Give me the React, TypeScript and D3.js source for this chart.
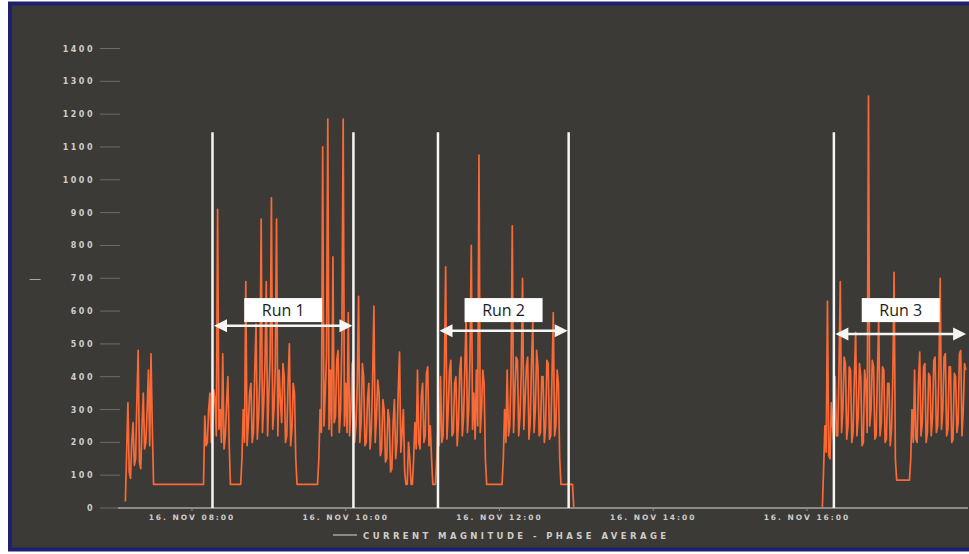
import React from "react";
import * as d3 from "d3";

const Y_TICKS = [0, 100, 200, 300, 400, 500, 600, 700, 800, 900, 1000, 1100, 1200, 1300, 1400];
const X_TICK_TIMES = ["08:00", "10:00", "12:00", "14:00", "16:00"];
const X_TICK_LABELS = ["16. NOV 08:00", "16. NOV 10:00", "16. NOV 12:00", "16. NOV 14:00", "16. NOV 16:00"];
const LEGEND_LABEL = "CURRENT MAGNITUDE - PHASE AVERAGE";
const AXIS_TITLE = "—";
const DOMAIN_TIMES = ["07:06", "18:06"];

const SAMPLE_STEP_MIN = 1;
const SEG1_START = "07:08";
const SEG1_VALUES = [
  20, 170, 320, 110, 90, 200, 260, 130, 150, 330, 480, 140, 120, 250, 350, 180, 200, 300, 420, 190, 470, 250,
  72, 72, 72, 72, 72, 72, 72, 72, 72, 72, 72, 72, 72, 72, 72, 72, 72, 72, 72, 72,
  72, 72, 72, 72, 72, 72, 72, 72, 72, 72, 72, 72, 72, 72, 72, 72, 72, 72, 72, 72,
  280, 190, 200, 300, 350, 200, 250, 360, 330, 220, 910, 240, 300, 200, 470, 180, 220, 320, 400, 200,
  72, 72, 72, 72, 72, 72, 72, 72, 72, 150,
  300, 200, 690, 190, 260, 350, 380, 200, 230, 420, 560, 210, 280, 400, 880, 230, 320, 440, 690, 220,
  350, 460, 945, 240, 300, 430, 880, 220, 420, 330, 260, 440, 400, 200, 220, 380, 500, 190, 240, 380, 350, 150,
  72, 72, 72, 72, 72, 72, 72, 72, 72, 72, 72, 72, 72, 72, 72, 72, 72, 150,
  300, 230, 1100, 250, 350, 460, 1185, 240, 420, 220, 765, 260, 280, 450, 480, 230, 300, 520, 1185, 250,
  380, 230, 595, 220, 300, 440, 450, 200, 250, 380,
  645, 200, 260, 440, 400, 190, 200, 330, 380, 180, 240, 400, 615, 200, 280, 390, 350, 160, 180, 330,
  300, 140, 150, 300, 270, 110, 120, 260, 330, 150, 200, 360, 475, 170, 230, 300, 110, 72, 72, 200,
  150, 72, 72, 150, 260, 180, 420, 200, 180, 340, 380, 200, 220, 410, 430, 190, 250, 150,
  72, 72, 72, 150,
  250, 190, 400, 200, 220, 420, 735, 210, 300, 420, 450, 220, 230, 380, 400, 190, 260, 420, 460, 220,
  280, 430, 595, 230, 300, 460, 800, 240, 350, 210, 420, 250, 1075, 230, 300, 420, 380, 150,
  72, 72, 72, 72, 72, 72, 72, 72, 72, 72, 72, 72, 72, 150,
  300, 200, 420, 220, 250, 400, 860, 230, 350, 460, 450, 220, 280, 410, 700, 240, 330, 430, 460, 210,
  260, 440, 570, 230, 300, 480, 430, 220, 230, 400, 400, 200, 250, 450, 440, 210, 220, 400, 595, 220,
  250, 420, 380, 150,
  72, 72, 72, 72, 72, 72, 72, 72, 72, 72, 0,
];
const SEG2_START = "16:12";
const SEG2_VALUES = [
  0, 120, 250, 170, 630, 160, 150, 320, 250, 200, 400, 220, 220, 420, 690, 230, 300, 460, 440, 210,
  250, 430, 420, 200, 230, 400, 535, 220, 280, 440, 400, 190, 200, 420, 380, 230, 1255, 250, 300, 450,
  430, 210, 220, 410, 585, 220, 260, 430, 420, 200, 210, 380, 380, 190, 240, 400, 718, 150,
  85, 85, 85, 85, 85, 85, 85, 85, 85, 85, 85, 150,
  300, 200, 420, 210, 200, 380, 475, 220, 260, 430, 440, 200, 230, 410, 400, 220, 280, 450, 460, 230,
  250, 420, 700, 240, 300, 460, 470, 220, 240, 430, 430, 200, 210, 410, 400, 230, 260, 470, 480, 220,
  300, 440, 420,
];

const RUN_NAMES = ["Run 1", "Run 2", "Run 3"];
const RUN_STARTS = ["08:16", "11:12", "16:21"];
const RUN_ENDS = ["10:06", "12:54", "18:05"];
const RUN_ARROW_VALUES = [555, 540, 530];
const RUN_LABEL_VALUE = 603;
const MARKER_TIMES = ["08:16", "10:06", "11:12", "12:54", "16:21"];
const MARKER_TOP_VALUE = 1145;

const toDate = (s: string) => {
  const [h, m] = s.split(":").map(Number);
  return new Date(2015, 10, 16, h, m);
};

export default function App() {
  const W = 969;
  const H = 554;
  const x = d3.scaleTime().domain(DOMAIN_TIMES.map(toDate)).range([122.8, 968.4]);
  const y = d3.scaleLinear().domain([0, 1400]).range([508, 48.5]);

  const pts: { t: Date; v: number }[] = [];
  const s1 = toDate(SEG1_START);
  SEG1_VALUES.forEach((v, i) => pts.push({ t: d3.timeMinute.offset(s1, i * SAMPLE_STEP_MIN), v }));
  const s2 = toDate(SEG2_START);
  SEG2_VALUES.forEach((v, i) => pts.push({ t: d3.timeMinute.offset(s2, i * SAMPLE_STEP_MIN), v }));

  const line = d3
    .line<{ t: Date; v: number }>()
    .x((d) => x(d.t))
    .y((d) => y(d.v));

  const axisFont = "'DejaVu Sans', sans-serif";
  const textColor = "#cfcdc8";

  return (
    <svg width={W} height={H} style={{ position: "absolute", left: 0, top: 0 }}>
      <rect x={0} y={0} width={W} height={H} fill="#ffffff" />
      <rect x={10} y={3.5} width={975} height={546} fill="#3b3a37" stroke="#1f216e" strokeWidth={4} />

      {/* y axis */}
      {Y_TICKS.map((t) => (
        <g key={t}>
          <line x1={100} x2={120} y1={y(t)} y2={y(t)} stroke="#6e6d69" strokeWidth={1} />
          <text
            x={95}
            y={y(t) + 3}
            textAnchor="end"
            fill={textColor}
            fontSize={8}
            fontWeight="bold"
            letterSpacing={2.5}
            fontFamily={axisFont}
          >
            {t}
          </text>
        </g>
      ))}
      <text x={35} y={283} textAnchor="middle" fill="#a9a7a2" fontSize={12} fontFamily={axisFont}>
        {AXIS_TITLE}
      </text>

      {/* series */}
      <path d={line(pts) || ""} fill="none" stroke="#fa6a36" strokeWidth={1.7} strokeLinejoin="round" />

      {/* x axis */}
      <line x1={118} x2={968} y1={y(0)} y2={y(0)} stroke="#8d8b86" strokeWidth={2.2} />
      {X_TICK_TIMES.map((t, i) => (
        <g key={t}>
          <line x1={x(toDate(t))} x2={x(toDate(t))} y1={y(0)} y2={y(0) + 3} stroke="#8d8b86" />
          <text
            x={x(toDate(t))}
            y={520}
            textAnchor="middle"
            fill={textColor}
            fontSize={7.5}
            fontWeight="bold"
            letterSpacing={2}
            fontFamily={axisFont}
          >
            {X_TICK_LABELS[i]}
          </text>
        </g>
      ))}

      {/* legend */}
      <line x1={333} x2={357} y1={535} y2={535} stroke="#a8a6a1" strokeWidth={1.5} />
      <text
        x={363}
        y={538.5}
        fill={textColor}
        fontSize={8.5}
        fontWeight="bold"
        letterSpacing={3.4}
        fontFamily={axisFont}
      >
        {LEGEND_LABEL}
      </text>

      {/* run markers */}
      {MARKER_TIMES.map((t) => (
        <line
          key={t}
          x1={x(toDate(t))}
          x2={x(toDate(t))}
          y1={y(MARKER_TOP_VALUE)}
          y2={y(0)}
          stroke="#f5f5f3"
          strokeWidth={2.5}
        />
      ))}

      {RUN_NAMES.map((name, i) => {
        const x1 = x(toDate(RUN_STARTS[i])) + 1.5;
        const x2 = x(toDate(RUN_ENDS[i])) - 1;
        const ay = y(RUN_ARROW_VALUES[i]);
        const cx = (x1 + x2) / 2;
        const ly = y(RUN_LABEL_VALUE);
        const hl = 13;
        const hh = 6.5;
        return (
          <g key={name}>
            <line x1={x1 + 8} x2={x2 - 8} y1={ay} y2={ay} stroke="#f5f5f3" strokeWidth={2.5} />
            <polygon points={`${x1},${ay} ${x1 + hl},${ay - hh} ${x1 + hl},${ay + hh}`} fill="#f5f5f3" />
            <polygon points={`${x2},${ay} ${x2 - hl},${ay - hh} ${x2 - hl},${ay + hh}`} fill="#f5f5f3" />
            <rect x={cx - 39} y={ly - 12} width={78} height={24} fill="#ffffff" />
            <text
              x={cx}
              y={ly + 5.5}
              textAnchor="middle"
              fill="#1e1e1e"
              fontSize={16}
              fontFamily="'Open Sans', sans-serif"
            >
              {name}
            </text>
          </g>
        );
      })}
    </svg>
  );
}
